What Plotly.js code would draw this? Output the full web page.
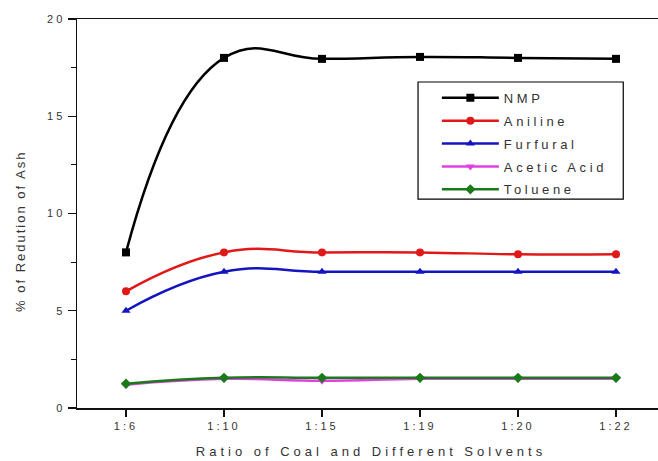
<!DOCTYPE html>
<html>
<head>
<meta charset="utf-8">
<script src="https://cdn.plot.ly/plotly-3.0.1.min.js"></script>
<style>
html,body{margin:0;padding:0;background:#fff;overflow:hidden;}
#chart{width:690px;height:461px;}
.xtick text,.ytick text{letter-spacing:3px;}
.xtitle{letter-spacing:4px;}
.annotation-text{letter-spacing:2px !important;}
text.legendtext,.legend text{letter-spacing:3.6px !important;}
</style>
</head>
<body>
<div id="chart"></div>
<script>
const ratios = ["1:6", "1:10", "1:15", "1:19", "1:20", "1:22"];
const nmp = [8.0, 18.0, 17.95, 18.05, 18.0, 17.95];
const aniline = [6.0, 8.0, 8.0, 8.0, 7.9, 7.9];
const furfural = [5.0, 7.0, 7.0, 7.0, 7.0, 7.0];
const aceticAcid = [1.2, 1.5, 1.4, 1.5, 1.5, 1.5];
const toluene = [1.25, 1.55, 1.55, 1.55, 1.55, 1.55];
const seriesNames = ["NMP", "Aniline", "Furfural", "Acetic Acid", "Toluene"];
const xTitle = "Ratio of Coal and Different Solvents";
const yTitle = "% of Redution of Ash";

const colors = ["#000000", "#e01818", "#1414c0", "#e040e0", "#1a7a1a"];
const symbols = ["square", "circle", "triangle-up", "triangle-down", "diamond"];
const sets = [nmp, aniline, furfural, aceticAcid, toluene];

const traces = sets.map((vals, i) => ({
  x: ratios,
  y: vals,
  name: seriesNames[i],
  legendgroup: "g" + i,
  type: "scatter",
  mode: "lines+markers",
  line: {color: colors[i], width: 2.5, shape: "spline", smoothing: 1.3},
  marker: {color: colors[i], symbol: symbols[i], size: 8}
}));

const fam = "Arial, Liberation Sans, sans-serif";
const tickFont = {family: fam, size: 11, color: "#333"};
const layout = {
  width: 690, height: 461,
  margin: {l: 77, r: 25, t: 19, b: 53},
  paper_bgcolor: "#fff", plot_bgcolor: "#fff",
  showlegend: true,
  legend: {
    x: 0.612, y: 0.836, xanchor: "left", yanchor: "top",
    borderwidth: 0, bgcolor: "rgba(0,0,0,0)",
    font: {family: fam, size: 13, color: "#333"},
    traceorder: "grouped", tracegroupgap: 3,
    itemwidth: 57
  },
  shapes: [{
    type: "rect", xref: "paper", yref: "paper",
    x0: 0.580, x1: 0.929, y0: 0.537, y1: 0.838,
    line: {color: "#000", width: 1.2}, fillcolor: "rgba(0,0,0,0)", layer: "above"
  }],
  annotations: [{
    text: yTitle, xref: "paper", yref: "paper",
    x: -0.097, y: 0.455, xanchor: "center", yanchor: "middle",
    textangle: -90, showarrow: false,
    font: {family: fam, size: 13, color: "#333"}
  }],
  xaxis: {
    type: "category", range: [-0.5, 5.5],
    showgrid: false, zeroline: false,
    showline: true, linecolor: "#111", linewidth: 1.5, mirror: true,
    ticks: "outside", ticklen: 7, tickwidth: 1.2, tickcolor: "#111",
    tickfont: tickFont,
    minor: {ticks: "outside", ticklen: 4, tickcolor: "#111", dtick: 0.5, showgrid: false},
    title: {text: xTitle, font: {family: fam, size: 13, color: "#333"}, standoff: 16}
  },
  yaxis: {
    range: [0, 20], dtick: 5, tick0: 0,
    showgrid: false, zeroline: false,
    showline: true, linecolor: "#111", linewidth: 1.5,
    ticks: "outside", ticklen: 8, tickwidth: 1.2, tickcolor: "#111",
    tickfont: tickFont,
    minor: {ticks: "outside", ticklen: 5, tickcolor: "#111", dtick: 2.5, showgrid: false}
  }
};

Plotly.newPlot("chart", traces, layout, {displayModeBar: false, staticPlot: true});
</script>
</body>
</html>
